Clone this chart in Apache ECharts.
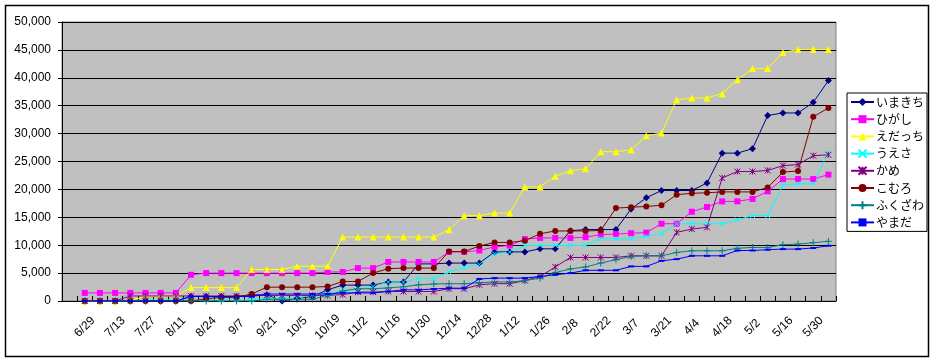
<!DOCTYPE html>
<html>
<head>
<meta charset="utf-8">
<script src="https://cdn.jsdelivr.net/npm/echarts@6/dist/echarts.min.js"></script>
<style>
html,body{margin:0;padding:0;background:#fff;}
#c{width:934px;height:361px;}
</style>
</head>
<body>
<div id="c"></div>
<script>
// Categories (index 0 is an empty leading slot)
const categories = ['', '6/29','7/6','7/13','7/20','7/27','8/3','8/11','8/17','8/24','8/31','9/7','9/14','9/21','9/28','10/5','10/12','10/19','10/26','11/2','11/9','11/16','11/23','11/30','12/7','12/14','12/21','12/28','1/4','1/12','1/19','1/26','2/1','2/8','2/15','2/22','3/1','3/7','3/14','3/21','3/28','4/4','4/11','4/18','4/25','5/2','5/9','5/16','5/23','5/30','6/6'];

const seriesNames = ['いまきち','ひがし','えだっち','うえさ','かめ','こむろ','ふくざわ','やまだ'];

const imakichi = [0,0,0,0,0,0,0, 800,800,800,800, 1100,1100, 0, 500, 800, 2000, 2850,2850,2850, 3400,3400, 6650,6650, 6800,6800,6800, 8800,8800,8800, 9350,9350, 12600, 12800,12800,12800, 16500, 18500, 19800,19800,19800, 21150, 26500,26500, 27300, 33250, 33700,33700, 35600, 39500];
const higashi = [1450,1450,1450,1450,1450,1450,1450, 4700, 5000,5000,5000,5000,5000,5000,5000,5000, 5200,5200, 5900,5900, 7000,7000,7000,7000, 8800,8800, 9050, 9700, 9950, 11100, 11300,11300,11300, 11450, 11900, 12000, 12150, 12250, 13850,13850, 16000, 16850, 17850,17850, 18300, 19650, 21850,21850,21850, 22650];
const edatchi = [0,0,0,100, 800,800,900, 2400,2400,2400,2400, 5650,5650,5650, 6250,6250,6250, 11450,11450,11450,11450,11450,11450,11450, 12750, 15300,15300, 15750,15750, 20450,20450, 22350, 23350, 23700, 26750,26750, 27100, 29600, 30100, 36050, 36400,36400, 37150, 39650, 41650,41650, 44550, 45050,45050,45050];
const uesa = [0,0,0,0, 200,200,200,200,200,200,200,200, 500,500,500, 1100, 1300, 1850, 2150, 2600, 3400,3400, 4050,4050, 5200, 6050, 6550, 8450, 8780, 9950,9950,9950,9950,9950, 11150,11150,11150, 11600, 12050, 13850,13850,13850,13850, 14550, 15300,15300, 20800, 21000,21000, 26650];
const kame = [0,0,0, 900,900,900,900,900,900,900,900, 1000,1000,1000,1000,1000,1000, 1150, 1600,1600, 1700,1700,1700,1700, 2200,2200, 2900, 3100,3100, 3650, 4400, 6100, 7800,7800,7800,7800, 8100,8100,8100, 12300, 12900, 13200, 22050, 23200,23200, 23400, 24250, 24450, 26050, 26200];
const komuro = [0,0,0,0,0,0,0,0, 400, 650,650, 1250, 2480,2480,2480,2480, 2600, 3500,3500, 5000, 5800, 5900,5900,5900, 8850,8850, 9850, 10500,10500, 10800, 12050, 12550,12550,12550, 12650, 16650, 16800, 16950, 17150, 19050, 19300, 19400, 19550,19550,19550, 20350, 23100, 23300, 33000, 34600];
const fukuzawa = [0,0,0,0,0,0,0,0,0,0,0,0, 300,300,300,300, 1000, 1800, 2200,2200, 2350, 2550, 2900, 3050, 3100,3100, 3250, 3400,3400, 3650, 4100, 5100, 5750, 6100, 6800, 7400, 8000, 8100,8100, 8700, 9000,9000,9000, 9450, 9600,9600, 10100, 10200, 10450, 10700];
const yamada = [0,0,0,0,0,0,0, 800,800,800,800,800, 1250,1250,1250,1250,1250, 1450,1450,1450, 1700, 2000,2000, 2150, 2300,2300, 3950, 4100,4100,4100, 4400, 4700, 5000, 5500,5500,5500, 6200,6200, 7200, 7500, 8100,8100,8100, 9050,9050, 9200, 9300,9300, 9500, 9900];

const yTicks = [0,5000,10000,15000,20000,25000,30000,35000,40000,45000,50000];

const seriesData = [imakichi, higashi, edatchi, uesa, kame, komuro, fukuzawa, yamada];
const colors = ['#000080','#FF00FF','#FFFF00','#00FFFF','#800080','#800000','#008080','#0000FF'];
const symbols = ['diamond','rect','triangle','path://M0,0L10,10M10,0L0,10','path://M0,0L10,10M10,0L0,10M5,0L5,10','circle','path://M5,0L5,10M0,5L10,5','rect'];
const symbolSizes = [7,6,7,5,6,6,7,[6,2]];
const strokeSym = [false,false,false,true,true,false,true,false];

const chart = echarts.init(document.getElementById('c'), null, {renderer:'canvas'});
const series = seriesNames.map((n,i)=>({
  name:n, type:'line', data:['-'].concat(seriesData[i]),
  symbol:symbols[i], symbolSize:symbolSizes[i], showAllSymbol:true,
  lineStyle:{color:colors[i], width:1},
  itemStyle: strokeSym[i] ? {color:colors[i], borderColor:colors[i], borderWidth:1} : {color:colors[i], borderWidth:0},
  emphasis:{disabled:true}, animation:false
}));

chart.setOption({
  animation:false,
  backgroundColor:'#ffffff',
  textStyle:{fontFamily:'Liberation Sans, Arial, sans-serif'},
  grid:{left:62, right:98, top:22, bottom:60, show:true, backgroundColor:'#C0C0C0', borderColor:'#808080', borderWidth:1},
  legend:{
    orient:'vertical', left:847, top:93, itemWidth:23, itemHeight:10, itemGap:3.2,
    padding:[2,3,2,3], borderColor:'#000', borderWidth:1, backgroundColor:'#fff',
    textStyle:{fontFamily:'Noto Sans CJK JP', fontSize:12, color:'#000', lineHeight:14, padding:[0,0,0,-3]},
    data:seriesNames
  },
  xAxis:{
    type:'category', data:categories, boundaryGap:true,
    axisLine:{show:true, lineStyle:{color:'#000', width:1}},
    axisTick:{show:true, inside:true, length:5, interval:0, lineStyle:{color:'#000'}},
    axisLabel:{interval:(idx)=>idx%2===1, rotate:45, align:'center', verticalAlign:'middle', fontSize:12, color:'#000', margin:26, fontFamily:'Liberation Sans, Arial, sans-serif'},
    splitLine:{show:false}
  },
  yAxis:{
    type:'value', min:yTicks[0], max:yTicks[yTicks.length-1], interval:5000,
    axisLine:{show:true, lineStyle:{color:'#000', width:1}},
    axisTick:{show:true, length:4, lineStyle:{color:'#000'}},
    axisLabel:{fontSize:12, color:'#000', margin:11, formatter:(v)=>v.toLocaleString('en-US'), fontFamily:'Liberation Sans, Arial, sans-serif'},
    splitLine:{show:true, lineStyle:{color:'#000', width:1}}
  },
  graphic:[{type:'rect', shape:{x:5.5, y:5.5, width:923, height:351}, style:{fill:'none', stroke:'#000', lineWidth:1.5}, silent:true, z:-1}],
  series:series
});
</script>
</body>
</html>
